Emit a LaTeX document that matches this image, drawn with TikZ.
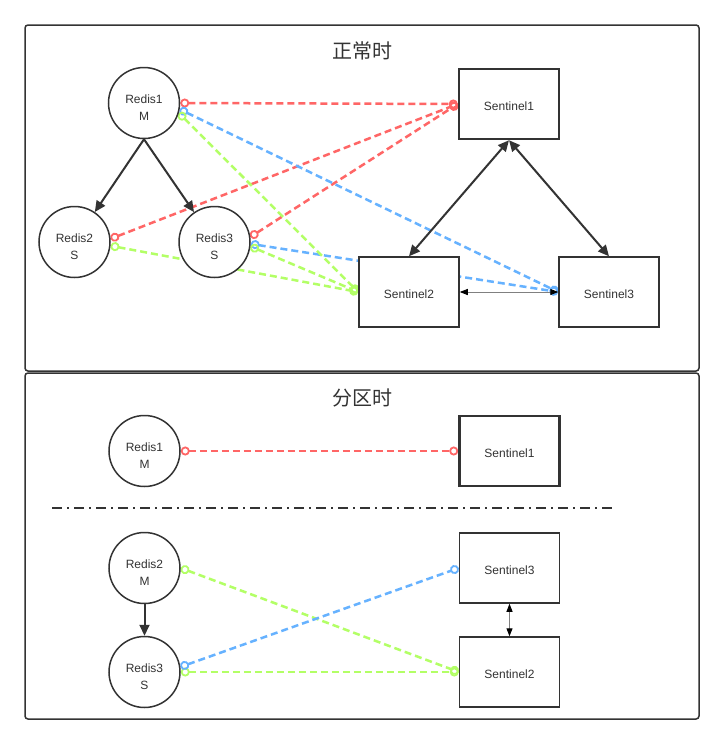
\documentclass[tikz,border=0pt]{standalone}
\usepackage{fontspec}
\setmainfont{Liberation Sans}
\newfontfamily\cjkfont{Noto Sans CJK SC}
\usetikzlibrary{arrows.meta,positioning}
\definecolor{ink}{HTML}{333333}
\definecolor{linkred}{HTML}{FF6666}
\definecolor{linkblue}{HTML}{66B2FF}
\definecolor{linkgreen}{HTML}{B3FF66}
\pgfdeclarelayer{back}
\pgfdeclarelayer{links}
\pgfsetlayers{back,links,main}

\begin{document}
\begin{tikzpicture}[x=1pt,y=-1pt,%
    node distance=100pt,on grid,
    redis/.style={circle,draw=ink,line width=1.5pt,fill=white,minimum size=71pt,
        inner sep=0pt,align=center,text=ink,text height=35pt,
        font=\fontsize{12}{17}\selectfont},
    sentinel/.style={rectangle,draw=ink,line width=1.5pt,fill=white,
        minimum width=100pt,minimum height=70pt,text=ink,text height=13pt,
        font=\fontsize{12}{14}\selectfont},
    leader/.style={line width=2.5pt},
    frame/.style={draw=ink,line width=1.5pt,rounded corners=3pt},
    title/.style={text=ink,font=\cjkfont\fontsize{20}{24}\selectfont},
    sync/.style={-{Triangle[length=11pt,width=10pt]},draw=ink,line width=2pt},
    vote/.style={{Triangle[length=11pt,width=10pt]}-{Triangle[length=11pt,width=10pt]},
        draw=ink,line width=2pt},
    peer/.style={{Triangle[length=8pt,width=6pt,color=black]}-{Triangle[length=8pt,width=6pt,color=black]},
        draw=gray,line width=1pt},
    link/.style={dash pattern=on 7pt off 4pt,line width=2.5pt,
        {Circle[open,length=9pt,line width=1.8pt]}-{Circle[open,length=9pt,line width=1.8pt]}}]
    \useasboundingbox (0,0) rectangle (724,745);
    \begin{pgfonlayer}{back}
        \fill[white] (0,0) rectangle (724,745);
        \draw[frame] (25,25) rectangle (699,371);
        \draw[frame] (25,373) rectangle (699,719);
    \end{pgfonlayer}

    % normal
    \node[title]               (t_1) at (362,51)                   {正常时};
    \node[redis]               (r_1) at (144,103)                  {Redis1\\M};
    \node[redis]               (r_2) [below left=139pt and 69.5pt of r_1] {Redis2\\S};
    \node[redis]               (r_3) [right=140pt of r_2]          {Redis3\\S};
    \node[sentinel,leader]     (s_1) at (509,104)                  {Sentinel1};
    \node[sentinel]            (s_2) [below left=188pt and 100pt of s_1] {Sentinel2};
    \node[sentinel]            (s_3) [right=200pt of s_2]          {Sentinel3};

    \draw[sync] (r_1.south) -- (r_2);
    \draw[sync] (r_1.south) -- (r_3);
    \draw[vote] (s_1.south) -- (s_2.north);
    \draw[vote] (s_1.south) -- (s_3.north);
    \draw[peer] (s_2.east) -- (s_3.west);

    \begin{pgfonlayer}{links}
        \draw[link,linkred]   (r_1.east) -- (s_1.west);
        \draw[link,linkred]   (r_2.5)    -- (s_1.west);
        \draw[link,linkred]   (r_3.8)    -- (s_1.west);
        \draw[link,linkblue]  (r_1.-10)  -- (s_3.west);
        \draw[link,linkblue]  (r_3.-3)   -- (s_3.west);
        \draw[link,linkgreen] (r_1.-16)  -- (s_2.west);
        \draw[link,linkgreen] (r_2.-6)   -- (s_2.west);
        \draw[link,linkgreen] (r_3.-7)   -- (s_2.west);
    \end{pgfonlayer}

    % partition
    \node[title]               (t_2) at (362,398)                  {分区时};
    \node[redis]               (pr_1) at (144.5,451)               {Redis1\\M};
    \node[sentinel,leader]     (ps_1) [right=365pt of pr_1]        {Sentinel1};
    \node[redis]               (pr_2) [below=117pt of pr_1]        {Redis2\\M};
    \node[redis]               (pr_3) [below=104pt of pr_2]        {Redis3\\S};
    \node[sentinel]            (ps_3) [right=365pt of pr_2]        {Sentinel3};
    \node[sentinel]            (ps_2) [right=365pt of pr_3]        {Sentinel2};

    \draw[ink,line width=1.5pt,dash pattern=on 10pt off 5pt on 2pt off 5pt]
        (52,508) -- (616,508);

    \draw[sync] (pr_2.south) -- (pr_3.north);
    \draw[peer] (ps_3.south) -- (ps_2.north);

    \begin{pgfonlayer}{links}
        \draw[link,linkred]   (pr_1.east) -- (ps_1.west);
        \draw[link,linkgreen] (pr_2.east) -- (ps_2.west);
        \draw[link,linkgreen] (pr_3.east) -- (ps_2.west);
        \draw[link,linkblue]  (pr_3.8)    -- (ps_3.west);
    \end{pgfonlayer}
\end{tikzpicture}
\end{document}
